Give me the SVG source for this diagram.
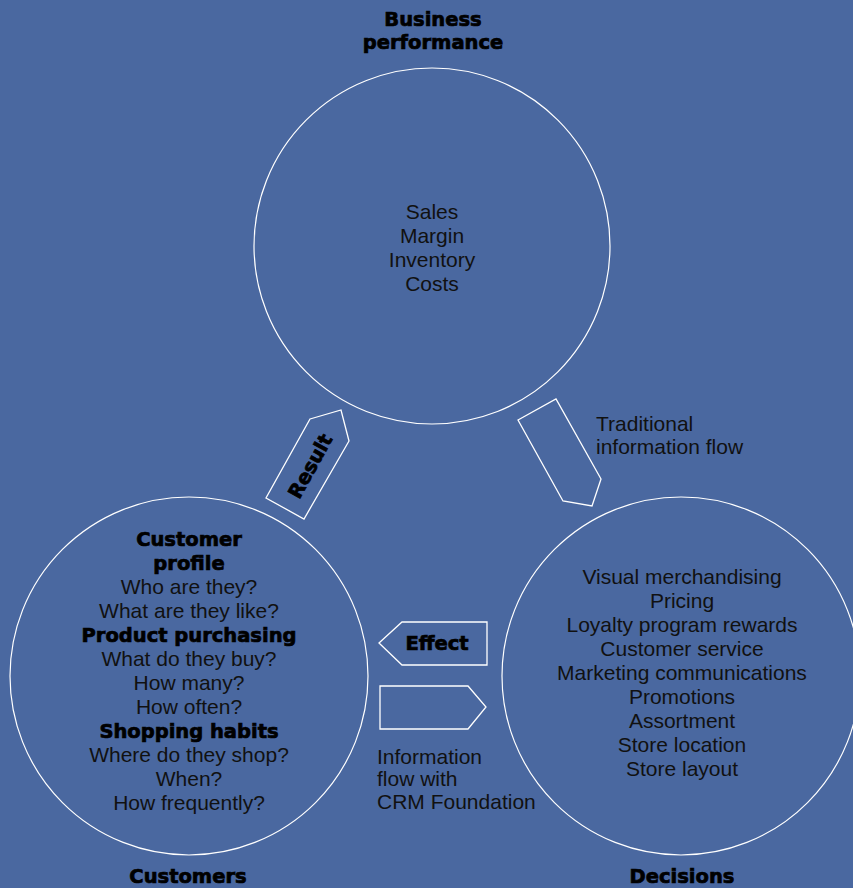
<svg xmlns="http://www.w3.org/2000/svg" width="853" height="888" viewBox="0 0 853 888">
<style>
.ring{fill:none;stroke:#fff;stroke-width:1.2}
.arr{fill:none;stroke:#fff;stroke-width:1.3}
.t{font-family:"Liberation Sans",Arial,sans-serif;font-size:21px;fill:#111}
.b{font-family:"DejaVu Sans","Liberation Sans",sans-serif;font-weight:bold;font-size:19.5px;fill:#000;stroke:#000;stroke-width:0.7}
.c{text-anchor:middle}
</style>
<rect width="853" height="888" fill="#4a68a0"/>
<g id="business">
<circle class="ring" cx="432" cy="246" r="178"/>
<text class="b c" x="433" y="26">Business</text>
<text class="b c" x="433" y="49">performance</text>
<text class="t c" x="432" y="219">Sales</text>
<text class="t c" x="432" y="243">Margin</text>
<text class="t c" x="432" y="267">Inventory</text>
<text class="t c" x="432" y="291">Costs</text>
</g>
<g id="customers">
<circle class="ring" cx="189" cy="676" r="179"/>
<text class="b c" x="189" y="546">Customer</text>
<text class="b c" x="189" y="570">profile</text>
<text class="t c" x="189" y="594">Who are they?</text>
<text class="t c" x="189" y="618">What are they like?</text>
<text class="b c" x="189" y="642">Product  purchasing</text>
<text class="t c" x="189" y="666">What do they buy?</text>
<text class="t c" x="189" y="690">How many?</text>
<text class="t c" x="189" y="714">How often?</text>
<text class="b c" x="189" y="738">Shopping habits</text>
<text class="t c" x="189" y="762">Where do they shop?</text>
<text class="t c" x="189" y="786">When?</text>
<text class="t c" x="189" y="810">How frequently?</text>
<text class="b c" x="188" y="883">Customers</text>
</g>
<g id="decisions">
<circle class="ring" cx="681" cy="676" r="179"/>
<text class="t c" x="682" y="584">Visual merchandising</text>
<text class="t c" x="682" y="608">Pricing</text>
<text class="t c" x="682" y="632">Loyalty program rewards</text>
<text class="t c" x="682" y="656">Customer service</text>
<text class="t c" x="682" y="680">Marketing communications</text>
<text class="t c" x="682" y="704">Promotions</text>
<text class="t c" x="682" y="728">Assortment</text>
<text class="t c" x="682" y="752">Store location</text>
<text class="t c" x="682" y="776">Store layout</text>
<text class="b c" x="682" y="883">Decisions</text>
</g>
<g id="connectors">
<g id="result-arrow">
<polygon class="arr" points="310,419 341,410 349,441 304,519 266,498"/>
<text class="b c" transform="translate(310,466) rotate(-61)" x="0" y="7">Result</text>
</g>
<g id="traditional-arrow">
<polygon class="arr" points="518,420 556,399 601,479 592,506 563,501"/>
<text class="t" x="596" y="431">Traditional</text>
<text class="t" x="596" y="454">information flow</text>
</g>
<g id="effect-arrow">
<polygon class="arr" points="379,643 402,622 487,622 487,665 402,665"/>
<text class="b c" x="437" y="650">Effect</text>
</g>
<g id="crm-arrow">
<polygon class="arr" points="380,686 468,686 486,707 468,729 380,729"/>
<text class="t" x="377" y="764">Information</text>
<text class="t" x="377" y="786">flow with</text>
<text class="t" x="377" y="809">CRM Foundation</text>
</g>
</g>
</svg>
